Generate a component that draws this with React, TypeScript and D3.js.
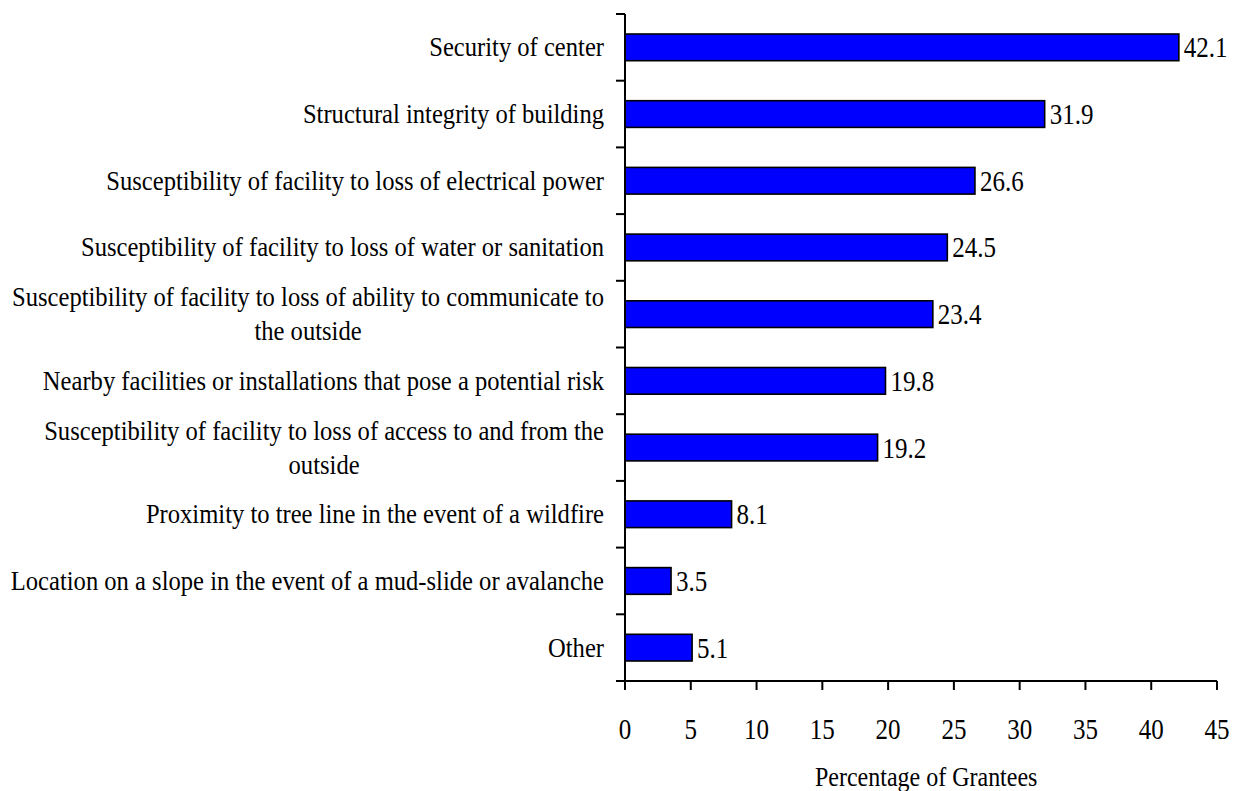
import React, { useEffect, useRef } from "react";
import * as d3 from "d3";

const categories: string[][] = [
  ["Security of center"],
  ["Structural integrity of building"],
  ["Susceptibility of facility to loss of electrical power"],
  ["Susceptibility of facility to loss of water or sanitation"],
  ["Susceptibility of facility to loss of ability to communicate to", "the outside"],
  ["Nearby facilities or installations that pose a potential risk"],
  ["Susceptibility of facility to loss of access to and from the", "outside"],
  ["Proximity to tree line in the event of a wildfire"],
  ["Location on a slope in the event of a mud-slide or avalanche"],
  ["Other"],
];
const values: number[] = [42.1, 31.9, 26.6, 24.5, 23.4, 19.8, 19.2, 8.1, 3.5, 5.1];
const xTicks: number[] = [0, 5, 10, 15, 20, 25, 30, 35, 40, 45];
const xTitle = "Percentage of Grantees";

const W = 1233;
const H = 791;
const FONT = "Liberation Serif";
const SY = 1.14;

export default function App() {
  const ref = useRef<SVGSVGElement | null>(null);

  useEffect(() => {
    const svg = d3.select(ref.current);
    svg.selectAll("*").remove();

    const keys = categories.map((_, i) => String(i));
    const x = d3.scaleLinear().domain([0, 45]).range([625, 1217]);
    const y = d3.scaleBand<string>().domain(keys).range([14, 681]).paddingInner(0.6).paddingOuter(0.3);
    const step = y.step();
    const x0 = x(0);
    const yBottom = 681;

    const txt = (g: any, tx: number, ty: number, s: string, size: number, anchor: string) =>
      g
        .append("text")
        .attr("transform", `translate(${tx},${ty}) scale(1,${SY})`)
        .style("font-family", FONT)
        .style("font-size", `${size}px`)
        .attr("text-anchor", anchor)
        .attr("fill", "#000")
        .text(s);

    // bars
    svg
      .append("g")
      .selectAll("rect")
      .data(values)
      .join("rect")
      .attr("x", x0)
      .attr("y", (_, i) => y(String(i))!)
      .attr("width", (d) => x(d) - x0)
      .attr("height", y.bandwidth())
      .attr("fill", "#0000FF")
      .attr("stroke", "#000")
      .attr("stroke-width", 1.6);

    // value labels
    const vg = svg.append("g");
    values.forEach((v, i) => {
      const cy = y(String(i))! + y.bandwidth() / 2;
      txt(vg, x(v) + 5, cy + 10, v.toFixed(1), 25, "start");
    });

    // axes
    const ag = svg.append("g").attr("stroke", "#000").attr("stroke-width", 2);
    ag.append("line").attr("x1", x0).attr("x2", x0).attr("y1", 14).attr("y2", yBottom);
    const tickYs = keys.map((k) => y(k)! - (step * 0.6) / 2).concat([yBottom]);
    tickYs.forEach((ty) => {
      ag.append("line").attr("x1", x0 - 9).attr("x2", x0).attr("y1", ty).attr("y2", ty);
    });
    ag.append("line").attr("x1", x0 - 9).attr("x2", x(45)).attr("y1", yBottom).attr("y2", yBottom);
    xTicks.forEach((t) => {
      ag.append("line").attr("x1", x(t)).attr("x2", x(t)).attr("y1", yBottom).attr("y2", yBottom + 9);
    });

    const tg = svg.append("g");
    xTicks.forEach((t) => {
      txt(tg, x(t), 739, String(t), 25, "middle");
    });
    txt(tg, 815, 786, xTitle, 24, "start");

    // category labels
    const lg = svg.append("g");
    const right = 604;
    categories.forEach((lines, i) => {
      const cy = y(String(i))! + y.bandwidth() / 2;
      const lh = 34;
      const n = lines.length;
      const firstBase = cy + 9 - ((n - 1) * lh) / 2;
      const t1 = txt(lg, right, firstBase, lines[0], 24.6, "end");
      const w1 = (t1.node() as SVGTextElement).getComputedTextLength();
      for (let k = 1; k < n; k++) {
        txt(lg, right - w1 / 2, firstBase + k * lh, lines[k], 24.6, "middle");
      }
    });
  }, []);

  return (
    <svg
      ref={ref}
      width={W}
      height={H}
      style={{ position: "absolute", left: 0, top: 0, background: "#fff" }}
    />
  );
}
